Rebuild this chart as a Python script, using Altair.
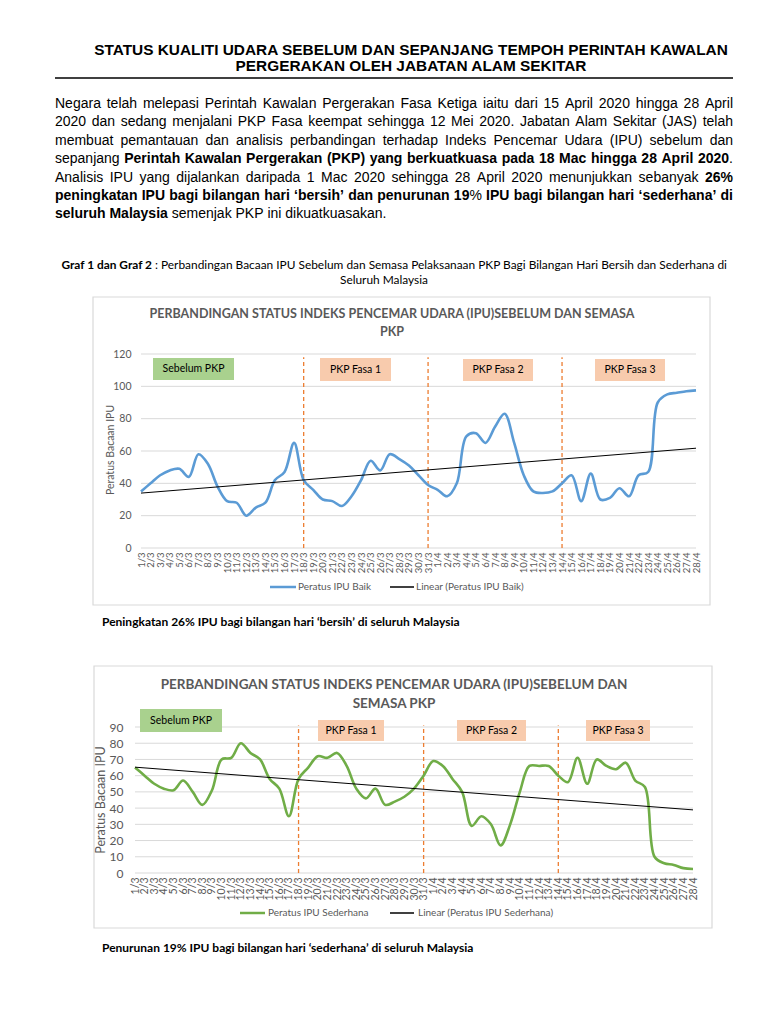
import json
import altair as alt
import pandas as pd

# ----------------------------- data -----------------------------
tarikh = ["1/3", "2/3", "3/3", "4/3", "5/3", "6/3", "7/3", "8/3", "9/3", "10/3",
          "11/3", "12/3", "13/3", "14/3", "15/3", "16/3", "17/3", "18/3", "19/3", "20/3",
          "21/3", "22/3", "23/3", "24/3", "25/3", "26/3", "27/3", "28/3", "29/3", "30/3",
          "31/3", "1/4", "2/4", "3/4", "4/4", "5/4", "6/4", "7/4", "8/4", "9/4",
          "10/4", "11/4", "12/4", "13/4", "14/4", "15/4", "16/4", "17/4", "18/4", "19/4",
          "20/4", "21/4", "22/4", "23/4", "24/4", "25/4", "26/4", "27/4", "28/4"]

ipu_baik = [35, 40, 45, 48, 49, 44, 58, 52, 38, 29,
            28, 20, 25, 28, 42, 47, 65, 42, 36, 30,
            29, 26, 32, 42, 54, 48, 58, 55, 51, 45,
            39, 36, 32, 40, 69, 71, 65, 75, 83, 65,
            45, 35, 34, 35, 40, 45, 29, 46, 30, 31,
            37, 32, 45, 47, 90, 95, 96, 97, 97.5]

ipu_sederhana = [65, 60, 55, 52, 51, 57, 50, 42, 51, 70,
                 71, 80, 74, 70, 58, 52, 35, 58, 65, 72,
                 71, 74, 66, 52, 46, 52, 42, 44, 47, 52,
                 60, 69, 66, 58, 50, 29, 35, 30, 17, 30,
                 50, 66, 66, 66, 60, 56, 71, 55, 70, 66,
                 64, 68, 57, 53, 10, 6, 5, 3, 2.5]

tick_baik = [0, 20, 40, 60, 80, 100, 120]
tick_sederhana = [0, 10, 20, 30, 40, 50, 60, 70, 80, 90]
fasa_mula = ["18/3", "31/3", "14/4"]
label_fasa = ["Sebelum PKP", "PKP Fasa 1", "PKP Fasa 2", "PKP Fasa 3"]
siri_baik = ["Peratus IPU Baik", "Linear (Peratus IPU Baik)"]
siri_sederhana = ["Peratus IPU Sederhana", "Linear (Peratus IPU Sederhana)"]

# ----------------------------- texts -----------------------------
tajuk = ["STATUS KUALITI  UDARA SEBELUM DAN SEPANJANG TEMPOH PERINTAH KAWALAN",
         "PERGERAKAN OLEH JABATAN ALAM SEKITAR"]
perenggan = [
    [("Negara telah melepasi Perintah Kawalan Pergerakan Fasa Ketiga iaitu dari 15 April 2020 hingga 28 April", False)],
    [("2020 dan sedang menjalani PKP Fasa keempat sehingga 12 Mei 2020. Jabatan Alam Sekitar (JAS)  telah", False)],
    [("membuat pemantauan dan analisis perbandingan terhadap Indeks Pencemar Udara (IPU) sebelum dan", False)],
    [("sepanjang ", False),
     ("Perintah Kawalan Pergerakan (PKP) yang berkuatkuasa pada 18 Mac hingga 28 April 2020", True),
     (".", False)],
    [("Analisis IPU yang dijalankan daripada 1 Mac 2020 sehingga 28 April 2020 menunjukkan sebanyak ", False),
     ("26%", True)],
    [("peningkatan IPU bagi bilangan hari \u2018bersih\u2019 dan penurunan 19", True), ("%", False),
     (" IPU bagi bilangan hari \u2018sederhana\u2019 di", True)],
    [("seluruh Malaysia", True), (" semenjak PKP ini dikuatkuasakan.", False)],
]
kapsyen_bold = "Graf 1 dan Graf 2"
kapsyen_normal = ": Perbandingan Bacaan IPU Sebelum dan Semasa Pelaksanaan PKP Bagi Bilangan Hari Bersih dan Sederhana di"
kapsyen_2 = "Seluruh Malaysia"
tajuk_graf1 = ["PERBANDINGAN STATUS INDEKS PENCEMAR UDARA (IPU)SEBELUM DAN  SEMASA", "PKP"]
tajuk_graf2 = ["PERBANDINGAN STATUS INDEKS PENCEMAR UDARA (IPU)SEBELUM DAN", "SEMASA PKP"]
paksi_y = "Peratus Bacaan IPU"
nota1 = "Peningkatan 26% IPU bagi bilangan hari \u2018bersih\u2019 di seluruh Malaysia"
nota2 = "Penurunan 19% IPU bagi bilangan hari \u2018sederhana\u2019 di seluruh Malaysia"

# ----------------------------- styles -----------------------------
W, H = 752, 1008
ARIAL = "Liberation Sans"
CAL = "Lato"
GREY = "#595959"
GRIDC = "#D9D9D9"
ORANGE = "#ED7D31"
BLUE = "#5B9BD5"
GREEN = "#70AD47"
BOXGREEN = "#A9D18E"
BOXPEACH = "#F8CBAD"

# Arial / Liberation Sans metrics (1/1000 em) for the justified paragraph
_REG = dict(zip("abcdefghijklmnopqrstuvwxyz",
                [556, 556, 500, 556, 556, 278, 556, 556, 222, 222, 500, 222, 833,
                 556, 556, 556, 556, 333, 500, 278, 556, 500, 722, 500, 500, 500]))
_REG.update(dict(zip("ABCDEFGHIJKLMNOPQRSTUVWXYZ",
                     [667, 667, 722, 722, 667, 611, 778, 722, 278, 500, 667, 556, 833,
                      722, 778, 667, 778, 722, 667, 611, 722, 667, 944, 667, 667, 611])))
_REG.update({c: 556 for c in "0123456789"})
_REG.update({" ": 278, ".": 278, ",": 278, "(": 333, ")": 333, "%": 889, "\u2018": 222,
             "\u2019": 222, "-": 333, ":": 278})
_BOLD = dict(zip("abcdefghijklmnopqrstuvwxyz",
                 [556, 611, 556, 611, 556, 333, 611, 611, 278, 278, 556, 278, 889,
                  611, 611, 611, 611, 389, 556, 333, 611, 556, 778, 556, 556, 500]))
_BOLD.update(dict(zip("ABCDEFGHIJKLMNOPQRSTUVWXYZ",
                      [722, 722, 722, 722, 667, 611, 778, 722, 278, 556, 722, 611, 833,
                       722, 778, 667, 778, 722, 667, 611, 722, 667, 944, 667, 667, 611])))
_BOLD.update({c: 556 for c in "0123456789"})
_BOLD.update({" ": 278, ".": 278, ",": 278, "(": 333, ")": 333, "%": 889, "\u2018": 278,
              "\u2019": 278, "-": 333, ":": 333})


def text_width(s, bold, size):
    t = _BOLD if bold else _REG
    return sum(t.get(c, 556) for c in s) * size / 1000.0


def tokens_of(segs):
    toks, glue = [], False
    for text, bold in segs:
        parts = text.split(" ")
        for k, p in enumerate(parts):
            if k > 0:
                glue = False
            if p == "":
                continue
            if glue and toks:
                toks[-1].append((p, bold))
            else:
                toks.append([(p, bold)])
            glue = True
        glue = parts[-1] != ""
    return toks


def layout_line(segs, x0, x1, y, size, justify):
    toks = tokens_of(segs)
    widths = [sum(text_width(p, b, size) for p, b in t) for t in toks]
    space = text_width(" ", False, size)
    if justify and len(toks) > 1:
        gap = max((x1 - x0 - sum(widths)) / (len(toks) - 1), 0.6 * space)
    else:
        gap = space
    rows, x = [], x0
    for t, w in zip(toks, widths):
        xx = x
        for p, b in t:
            rows.append({"t": p, "x": xx, "y": y, "b": b})
            xx += text_width(p, b, size)
        x += w + gap
    return rows


def PX(f):
    return alt.X(f + ":Q", scale=None, axis=None)


def PY(f):
    return alt.Y(f + ":Q", scale=None, axis=None)


def texts(rows, **kw):
    return alt.Chart(pd.DataFrame(rows)).mark_text(**kw).encode(
        x=PX("x"), y=PY("y"), text="t:N")


# ----------------------------- header -----------------------------
layers = []
layers.append(texts([{"t": tajuk[0], "x": 403, "y": 42}, {"t": tajuk[1], "x": 403, "y": 58}],
                    font=ARIAL, fontSize=15.4, fontWeight="bold", align="center",
                    baseline="middle", color="black"))
layers.append(alt.Chart(pd.DataFrame({"x0": [47], "x1": [725], "y": [70]}))
              .mark_rule(color="black", strokeWidth=1.3)
              .encode(x=PX("x0"), x2="x1:Q", y=PY("y")))

PSIZE = 14
prow = []
for k, segs in enumerate(perenggan):
    prow += layout_line(segs, 47, 725, 96 + 18.4 * k, PSIZE, k < len(perenggan) - 1)
pdf = pd.DataFrame(prow)
for bold in (False, True):
    sub = pdf[pdf["b"] == bold][["t", "x", "y"]]
    layers.append(alt.Chart(sub).mark_text(font=ARIAL, fontSize=PSIZE,
                                           fontWeight="bold" if bold else "normal",
                                           align="left", baseline="middle", color="black")
                  .encode(x=PX("x"), y=PY("y"), text="t:N"))

CAPS = 11.9
layers.append(texts([{"t": kapsyen_bold, "x": 144, "y": 257}], font=CAL, fontSize=CAPS,
                    fontWeight="bold", align="right", baseline="middle", color="black"))
layers.append(texts([{"t": kapsyen_normal, "x": 147, "y": 257}], font=CAL, fontSize=CAPS,
                    align="left", baseline="middle", color="black"))
layers.append(texts([{"t": kapsyen_2, "x": 376, "y": 272}], font=CAL, fontSize=CAPS,
                    align="center", baseline="middle", color="black"))

# ----------------------------- frames -----------------------------
layers.append(alt.Chart(pd.DataFrame({"x0": [85, 86], "x1": [702, 704],
                                      "y0": [289, 658], "y1": [597, 920]}))
              .mark_rect(fill="white", stroke=GRIDC, strokeWidth=1.2)
              .encode(x=PX("x0"), x2="x1:Q", y=PY("y0"), y2="y1:Q"))


# ----------------------------- panels -----------------------------
def panel(values, color, yticks, ymax, dash_top, xr, yr, xlab_size, ylab_size, ylab_pad):
    n = len(tarikh)
    xs = alt.Scale(domain=[0, n - 1], range=list(xr), nice=False, zero=False)
    ys = alt.Scale(domain=[0, ymax], range=list(yr), nice=False, zero=False)
    X = alt.X("i:Q", scale=xs, title=None,
              axis=alt.Axis(orient="bottom", offset=yr[0] - H, values=list(range(n)),
                            labelExpr=json.dumps(tarikh) + "[datum.value]",
                            labelAngle=-90, labelOverlap=False, labelFlush=False,
                            labelFont=CAL, labelFontSize=xlab_size, labelColor=GREY,
                            labelPadding=4, domain=False, ticks=False, grid=False,
                            zindex=2))
    Y = alt.Y("v:Q", scale=ys, title=None,
              axis=alt.Axis(orient="left", offset=-xr[0], values=yticks, format="d",
                            labelFont=CAL, labelFontSize=ylab_size, labelColor=GREY,
                            labelPadding=ylab_pad, labelFlush=False,
                            domain=False, ticks=False, grid=False, zindex=2))
    df = pd.DataFrame({"i": list(range(n)), "v": values})
    grid = alt.Chart(pd.DataFrame({"v": yticks, "i": 0, "i2": n - 1})).mark_rule(
        color=GRIDC, strokeWidth=1).encode(x=X, x2="i2:Q", y=Y)
    idx = [tarikh.index(d) for d in fasa_mula]
    dash = alt.Chart(pd.DataFrame({"i": idx, "v": 0, "v2": dash_top})).mark_rule(
        color=ORANGE, strokeDash=[4, 3], strokeWidth=1.3).encode(x=X, y=Y, y2="v2:Q")
    line = alt.Chart(df).mark_line(color=color, strokeWidth=2.6,
                                   interpolate="catmull-rom").encode(x=X, y=Y)
    trend = alt.Chart(df).transform_regression(
        "i", "v", method="linear", extent=[0, n - 1]).mark_line(
        color="black", strokeWidth=1).encode(x=X, y=Y)
    return alt.layer(grid, dash, line, trend)


layers.append(panel(ipu_baik, BLUE, tick_baik, 120, 118, (133, 688), (540, 346), 9.5, 10.5, 10))
layers.append(panel(ipu_sederhana, GREEN, tick_sederhana, 90, 91, (127, 685), (865, 719), 10.5, 12, 12))

# ----------------------------- annotations -----------------------------
boxes = pd.DataFrame({
    "t": label_fasa + label_fasa,
    "x0": [145, 312, 455, 587, 132, 310, 449, 578],
    "x1": [226, 383, 525, 657, 214, 376, 518, 642],
    "y0": [350, 350, 351, 351, 701, 712, 712, 712],
    "y1": [372, 373, 373, 373, 724, 733, 733, 733],
    "f": [BOXGREEN, BOXPEACH, BOXPEACH, BOXPEACH] * 2,
})
boxes["x"] = (boxes["x0"] + boxes["x1"]) / 2
boxes["y"] = (boxes["y0"] + boxes["y1"]) / 2
layers.append(alt.Chart(boxes).mark_rect().encode(
    x=PX("x0"), x2="x1:Q", y=PY("y0"), y2="y1:Q", color=alt.Color("f:N", scale=None)))
layers.append(alt.Chart(boxes).mark_text(font=CAL, fontSize=10.5, color="black",
                                         baseline="middle", align="center")
              .encode(x=PX("x"), y=PY("y"), text="t:N"))

layers.append(texts([{"t": tajuk_graf1[0], "x": 384, "y": 306}, {"t": tajuk_graf1[1], "x": 384, "y": 324}],
                    font=CAL, fontSize=12.5, fontWeight="bold", align="center",
                    baseline="middle", color=GREY))
layers.append(texts([{"t": tajuk_graf2[0], "x": 386, "y": 677}, {"t": tajuk_graf2[1], "x": 386, "y": 696}],
                    font=CAL, fontSize=13.5, fontWeight="bold", align="center",
                    baseline="middle", color=GREY))
layers.append(alt.Chart(pd.DataFrame([{"t": paksi_y, "x": 103, "y": 442, "s": 10.5},
                                      {"t": paksi_y, "x": 93, "y": 792, "s": 12.5}]))
              .mark_text(font=CAL, angle=270, align="center", baseline="middle", color=GREY)
              .encode(x=PX("x"), y=PY("y"), text="t:N", size=alt.Size("s:Q", scale=None)))

# legends
leg_lines = pd.DataFrame({"x0": [262, 382, 232, 382], "x1": [288, 406, 257, 406],
                          "y": [579, 579, 905, 905], "c": [BLUE, "black", GREEN, "black"],
                          "w": [2.5, 1.5, 2.5, 1.5]})
layers.append(alt.Chart(leg_lines).mark_rule().encode(
    x=PX("x0"), x2="x1:Q", y=PY("y"), color=alt.Color("c:N", scale=None),
    strokeWidth=alt.StrokeWidth("w:Q", scale=None)))
layers.append(texts([{"t": siri_baik[0], "x": 290, "y": 579}, {"t": siri_baik[1], "x": 408, "y": 579},
                     {"t": siri_sederhana[0], "x": 260, "y": 905},
                     {"t": siri_sederhana[1], "x": 410, "y": 905}],
                    font=CAL, fontSize=10, align="left", baseline="middle", color=GREY))

# notes
layers.append(texts([{"t": nota1, "x": 94, "y": 614}, {"t": nota2, "x": 94, "y": 940}],
                    font=CAL, fontSize=12, fontWeight="bold", align="left",
                    baseline="middle", color="black"))

chart = alt.layer(*layers).resolve_scale(x="independent", y="independent").properties(
    width=W, height=H, padding=0, autosize=alt.AutoSizeParams(type="none"),
    background="white").configure_view(stroke=None)

chart.save("out.html", embed_options={"renderer": "svg", "actions": False})
